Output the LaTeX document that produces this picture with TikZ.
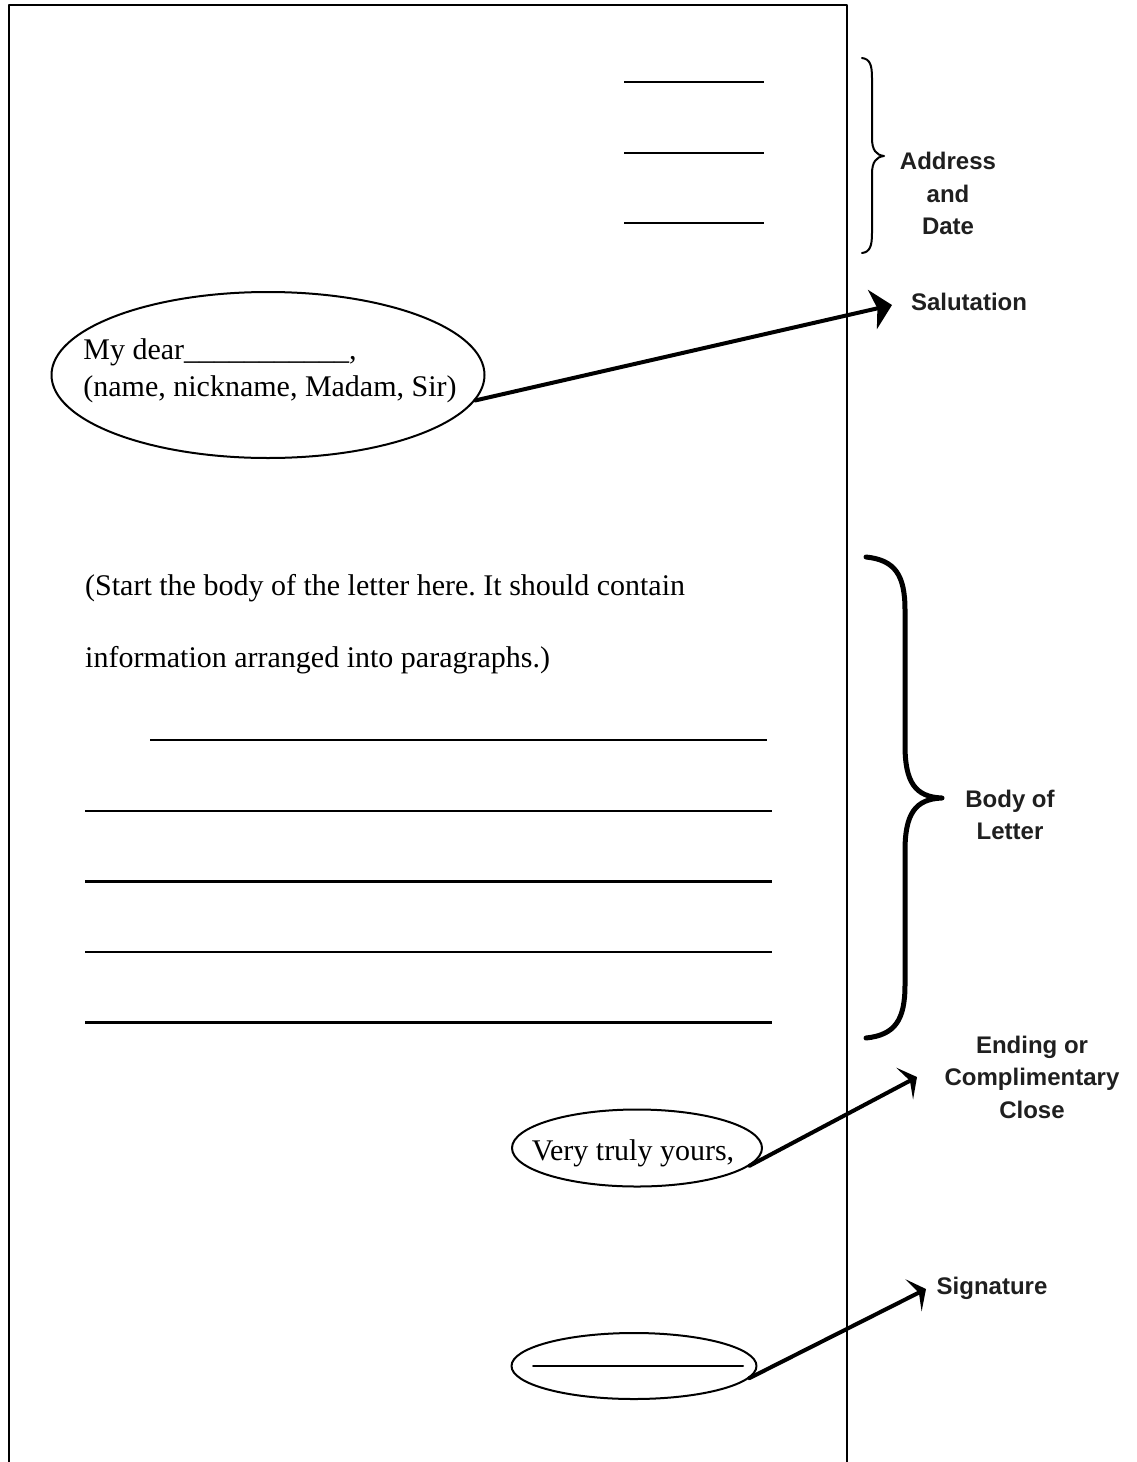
\documentclass[tikz,border=0pt]{standalone}
\usepackage{fontspec}
\setmainfont{Liberation Serif}
\newfontfamily\labelfont{Liberation Sans}
\usetikzlibrary{shapes.geometric,arrows.meta}
\begin{document}
\frenchspacing
\begin{tikzpicture}[x=1pt, y=-1pt, line join=round, line cap=round,
	font=\fontsize{30}{37}\selectfont,
	tag/.style={font=\labelfont\bfseries\fontsize{24}{32.5}\selectfont, align=center, text=black!88},
	oval/.style={ellipse, draw, line width=2pt, inner sep=0pt},
	pointer/.style={line width=4pt, -{Stealth[length=14pt, width=36pt, inset=6pt]}},
	bigpointer/.style={line width=4pt, -{Stealth[length=20pt, width=40pt, inset=5pt]}},
	rule/.style={line width=2.2pt, line cap=butt}]
	\useasboundingbox (0,0) rectangle (1137,1462);
	\draw[line width=2.5pt, line cap=butt] (9,1462) -- (9,5) -- (847,5) -- (847,1462);
	\path
	(892,305) coordinate (salTip)
	(917,1077) coordinate (closeTip)
	(926,1289) coordinate (signTip);
	\foreach \y in {82,153,223}
	\draw[rule, line width=2pt] (624,\y) -- (764,\y);
	\draw[line width=2pt] (862,58) .. controls (870,59) and (872,65) .. (872,78) -- (872,138)
		.. controls (872,150) and (876,155) .. (884,156) .. controls (876,157) and (872,162) .. (872,174)
		-- (872,233) .. controls (872,246) and (870,252) .. (862,253);
	\draw[line width=5pt] (866,557) .. controls (895,560) and (905,575) .. (905,610) -- (905,745)
		.. controls (905,782) and (915,797) .. (942,798) .. controls (915,799) and (905,814) .. (905,851)
		-- (905,985) .. controls (905,1020) and (895,1035) .. (866,1038);
	\node[oval, minimum width=433pt, minimum height=166pt] (salut) at (268,375) {};
	\node[align=left, inner sep=0pt] (salText) at (270,371)
	{My dear\_\_\_\_\_\_\_\_\_\_\_,\\(name, nickname, Madam, Sir)};
	\node[anchor=west, inner sep=0pt] (bodyA) at (85,588) {(Start the body of the letter here. It should contain};
	\node[anchor=west, inner sep=0pt] (bodyB) at (85,660) {information arranged into paragraphs.)};
	\draw[rule] (150,740) -- (767,740);
	\foreach \y in {811,881.5,952,1022.5}
	\draw[rule] (85,\y) -- (772,\y);
	\node[oval, minimum width=250pt, minimum height=77pt] (close) at (637,1148) {};
	\node[inner sep=0pt] (closeText) at (633,1153) {Very truly yours,};
	\node[oval, minimum width=245pt, minimum height=66pt] (sign) at (634,1366) {};
	\draw[line width=2pt] ([xshift=-101pt]sign.center) -- ([xshift=109pt]sign.center);
	\node[tag] (addrLab) at (948,193.5) {Address\\and\\Date};
	\node[tag] (salLab) at (969,302) {Salutation};
	\node[tag] (bodyLab) at (1010,815) {Body of\\Letter};
	\node[tag] (closeLab) at (1032,1077) {Ending or\\Complimentary\\Close};
	\node[tag] (signLab) at (992,1288) {Signature};
	\draw[bigpointer] (salut.-7) -- (salTip);
	\draw[pointer] (close.-9) -- (closeTip);
	\draw[pointer] (sign.-6) -- (signTip);
\end{tikzpicture}
\end{document}
